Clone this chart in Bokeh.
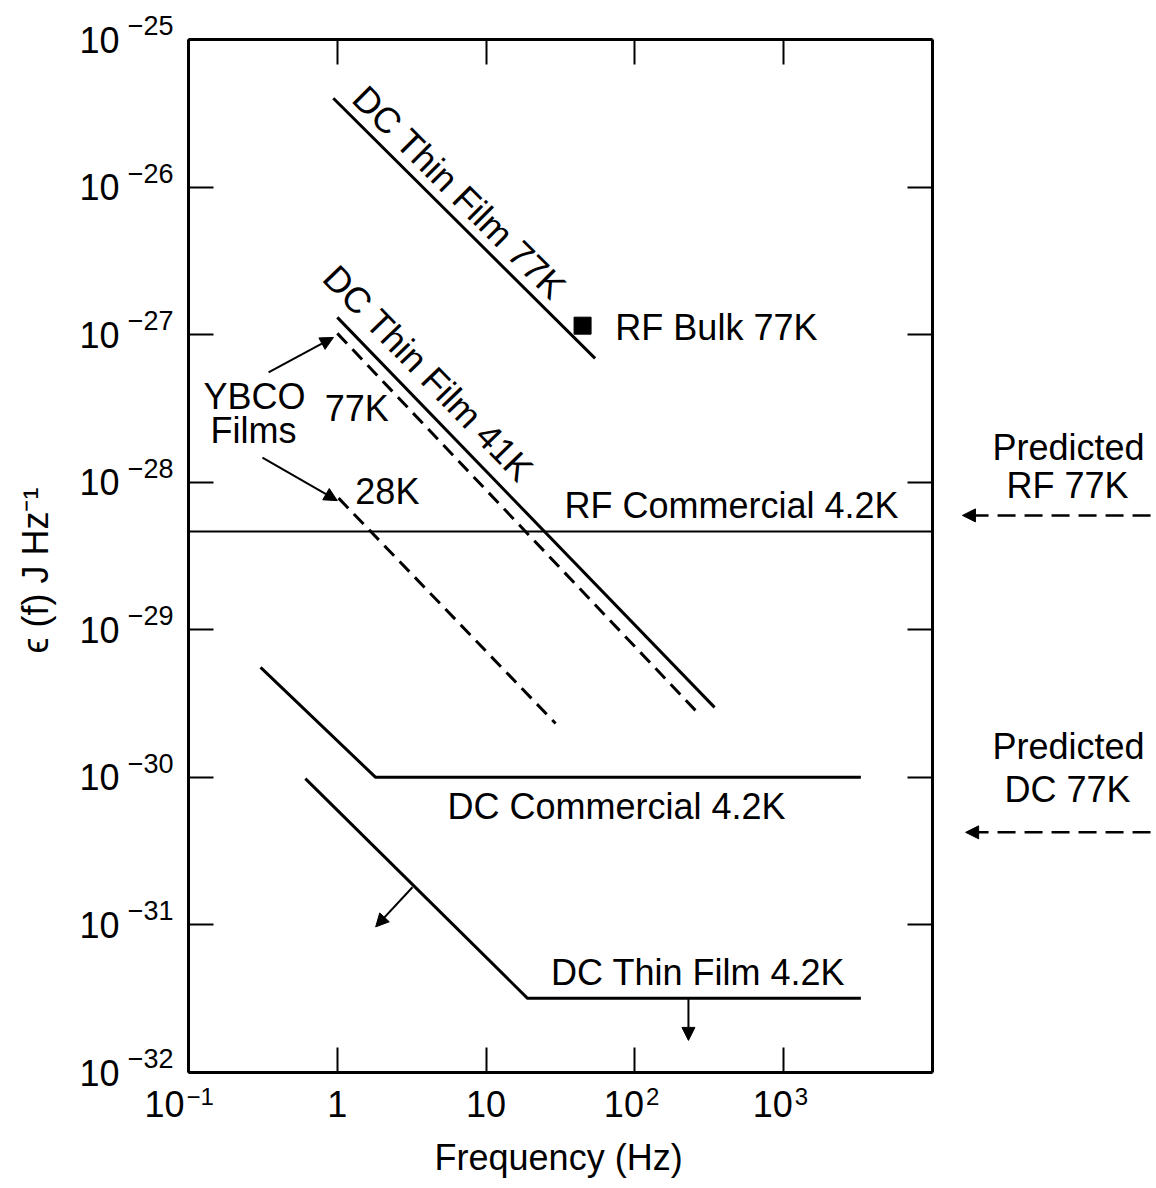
import math
from bokeh.plotting import figure
from bokeh.models import (LogAxis, FixedTicker, Label, Arrow, NormalHead, Range1d,
                          CustomJSTickFormatter)
from bokeh.embed import file_html
from bokeh.resources import INLINE

# ---------------- data ----------------
x_ticks = [0.1, 1, 10, 100, 1000]
x_tick_base = ["10", "1", "10", "10", "10"]
x_tick_exp = ["\u22121", "", "", "2", "3"]
y_ticks = [1e-25, 1e-26, 1e-27, 1e-28, 1e-29, 1e-30, 1e-31, 1e-32]
y_tick_exp = ["\u221225", "\u221226", "\u221227", "\u221228",
              "\u221229", "\u221230", "\u221231", "\u221232"]

dc_tf77_f = [0.94, 54.0]
dc_tf77_e = [4.0e-26, 6.9e-28]
rf_bulk_f = [44.5]
rf_bulk_e = [1.15e-27]
dc_tf41_f = [1.0, 343.0]
dc_tf41_e = [1.31e-27, 2.98e-30]
ybco77_f = [1.0, 267.0]
ybco77_e = [1.02e-27, 2.71e-30]
ybco28_f = [1.02, 29.3]
ybco28_e = [7.8e-29, 2.32e-30]
rf_comm_f = [0.1, 1e4]
rf_comm_e = [4.64e-29, 4.64e-29]
dc_comm_f = [0.305, 1.81, 3300.0]
dc_comm_e = [5.56e-30, 1.0e-30, 1.0e-30]
dc_tf42_f = [0.61, 19.0, 3300.0]
dc_tf42_e = [9.8e-31, 3.18e-32, 3.18e-32]
pred_rf_e = 5.96e-29
pred_dc_e = 4.24e-31

FONT = "Liberation Sans"

# The plotting box spans f = 0.1 .. 1e4 and eps = 1e-32 .. 1e-25; the frame is
# widened so that the margin texts and arrows of the original live inside it.
X_MIN, X_MAX = 0.1, 1e4
Y_MIN, Y_MAX = 1e-32, 1e-25
W, H = 1156, 1188
BOX_L, BOX_R, BOX_T, BOX_B = 188, 224, 39, 116   # margins around the box (px)
dx = (W - BOX_L - BOX_R) / math.log10(X_MAX / X_MIN)
dy = (H - BOX_T - BOX_B) / math.log10(Y_MAX / Y_MIN)
x_lo = X_MIN * 10 ** (-BOX_L / dx)
x_hi = X_MAX * 10 ** (BOX_R / dx)
y_lo = Y_MIN * 10 ** (-BOX_B / dy)
y_hi = Y_MAX * 10 ** (BOX_T / dy)

p = figure(x_axis_type="log", y_axis_type="log",
           x_range=Range1d(x_lo, x_hi), y_range=Range1d(y_lo, y_hi),
           width=W, height=H, min_border=0,
           toolbar_location=None, output_backend="svg")
p.grid.visible = False
p.outline_line_color = None
p.background_fill_color = "white"
p.border_fill_color = "white"

empty = CustomJSTickFormatter(code="return ''")


def style_axis(ax, ticks, loc, bounds):
    ax.fixed_location = loc
    ax.bounds = bounds
    ax.ticker = FixedTicker(ticks=ticks)
    ax.formatter = empty
    ax.major_tick_in = 25
    ax.major_tick_out = 0
    ax.minor_tick_line_color = None
    ax.major_tick_line_width = 2
    ax.major_tick_line_color = "black"
    ax.axis_line_width = 3
    ax.axis_line_color = "black"
    ax.major_label_text_font_size = "0px"
    ax.major_label_standoff = 0


style_axis(p.below[0], x_ticks, Y_MIN, (X_MIN, X_MAX))
style_axis(p.left[0], y_ticks, X_MIN, (Y_MIN, Y_MAX))
top = LogAxis()
style_axis(top, x_ticks, Y_MAX, (X_MIN, X_MAX))
p.add_layout(top, "above")
right = LogAxis()
style_axis(right, y_ticks, X_MAX, (Y_MIN, Y_MAX))
p.add_layout(right, "right")

# ---------------- curves ----------------
p.line(dc_tf77_f, dc_tf77_e, line_width=3, color="black")
p.scatter(rf_bulk_f, rf_bulk_e, marker="square", size=17, color="black")
p.line(dc_tf41_f, dc_tf41_e, line_width=3, color="black")
p.line(ybco77_f, ybco77_e, line_width=3, color="black", line_dash="14 8")
p.line(ybco28_f, ybco28_e, line_width=3, color="black", line_dash="14 8")
p.line(rf_comm_f, rf_comm_e, line_width=2, color="black")
p.line(dc_comm_f, dc_comm_e, line_width=3, color="black")
p.line(dc_tf42_f, dc_tf42_e, line_width=3, color="black")


def lab(x, y, text, size=36, align="center", angle=0.0, xo=0, yo=0):
    p.add_layout(Label(x=x, y=y, text=text, text_font=FONT,
                       text_font_size=f"{size}px", text_align=align,
                       text_baseline="middle", angle=angle,
                       x_offset=xo, y_offset=yo, text_color="black"))


def arrow(x0, y0, x1, y1, dash="solid", size=13, width=2):
    p.add_layout(Arrow(end=NormalHead(size=size, fill_color="black", line_color="black"),
                       x_start=x0, y_start=y0, x_end=x1, y_end=y1,
                       line_width=width, line_color="black", line_dash=dash))


# ---------------- tick labels ----------------
for t, ex in zip(y_ticks, y_tick_exp):
    lab(X_MIN, t, "10", align="right", xo=-69)
    lab(X_MIN, t, ex, size=27, align="right", xo=-15, yo=14)

for t, b, ex in zip(x_ticks, x_tick_base, x_tick_exp):
    if ex:
        d = -4 if ex.startswith("\u2212") else 9
        lab(t, Y_MIN, b, align="right", xo=d, yo=-31)
        lab(t, Y_MIN, ex, size=24, align="left", xo=d + 2, yo=-24)
    else:
        lab(t, Y_MIN, b, align="center", yo=-31)

# axis titles
lab(30.7, Y_MIN, "Frequency (Hz)", yo=-85)
lab(X_MIN, 2.52e-29, "\u03f5 (f) J Hz\u207b\u00b9", angle=math.pi / 2, xo=-153)

# ---------------- annotations ----------------
lab(6.23, 8.63e-27, "DC Thin Film 77K", angle=-math.pi / 4, xo=4, yo=4)
lab(353, 1.12e-27, "RF Bulk 77K")
lab(3.98, 5.29e-28, "DC Thin Film 41K", angle=-0.802, xo=2, yo=2)
lab(0.278, 3.81e-28, "YBCO")
lab(0.273, 2.24e-28, "Films")
lab(1.35, 3.16e-28, "77K")
lab(2.17, 8.66e-29, "28K")
lab(446, 6.97e-29, "RF Commercial 4.2K")
lab(75.2, 6.36e-31, "DC Commercial 4.2K")
lab(266, 4.77e-32, "DC Thin Film 4.2K")
lab(82000, 1.72e-28, "Predicted")
lab(80800, 9.5e-29, "RF 77K")
lab(82000, 1.62e-30, "Predicted")
lab(80800, 8.3e-31, "DC 77K")

arrow(0.345, 5.55e-28, 0.942, 9.57e-28)
arrow(0.314, 1.47e-28, 1.0, 7.5e-29)
arrow(3.2, 1.8e-31, 1.81, 9.7e-32)
arrow(229, 3.18e-32, 229, 1.65e-32)
arrow(2.92e5, pred_rf_e, 1.59e4, pred_rf_e, dash="18 9", width=2.5)
arrow(2.92e5, pred_dc_e, 1.67e4, pred_dc_e, dash="18 9", width=2.5)

open("out.html", "w").write(file_html(p, INLINE))
